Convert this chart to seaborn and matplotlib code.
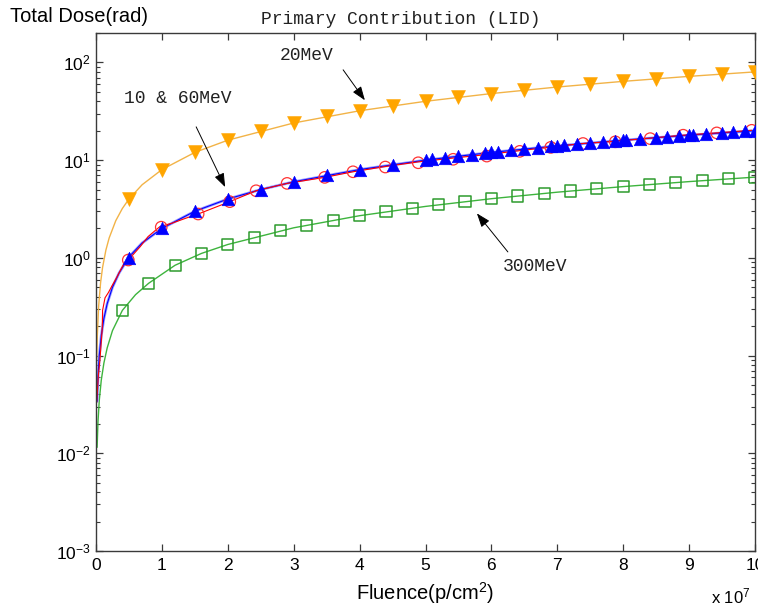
import matplotlib
matplotlib.use("Agg")
import matplotlib.pyplot as plt
from matplotlib.ticker import LogLocator, NullFormatter, FixedLocator
import seaborn as sns

# Fluence in units of 1e7 p/cm^2, total dose in rad

# 20 MeV (orange, downward triangles)
fluence_20mev = [0.5, 1.0, 1.5, 2.0, 2.5, 3.0, 3.5, 4.0, 4.5, 5.0,
                 5.5, 6.0, 6.5, 7.0, 7.5, 8.0, 8.5, 9.0, 9.5, 10.0]
dose_20mev = [4.0, 8.0, 12.0, 16.0, 20.0, 24.0, 28.0, 32.0, 36.0, 40.0,
              44.0, 48.0, 52.0, 56.0, 60.0, 64.0, 68.0, 72.0, 76.0, 80.0]
curve_fluence_20mev = [0.011, 0.02, 0.04, 0.07, 0.1, 0.15, 0.2, 0.3, 0.4, 0.5, 0.7,
                       1.0, 1.5, 2.0, 3.0, 4.0, 5.0, 6.0, 7.0, 8.0, 9.0, 10.0]
curve_dose_20mev = [0.09, 0.16, 0.32, 0.56, 0.8, 1.2, 1.6, 2.4, 3.2, 4.0, 5.6,
                    8.0, 12.0, 16.0, 24.0, 32.0, 40.0, 48.0, 56.0, 64.0, 72.0, 80.0]

# 60 MeV (blue, upward triangles)
fluence_60mev = [0.5, 1.0, 1.5, 2.0, 2.5, 3.0, 3.5, 4.0, 4.5, 5.0,
                 5.1, 5.3, 5.5, 5.7, 5.9, 6.0, 6.1, 6.3, 6.5, 6.7,
                 6.9, 7.0, 7.1, 7.3, 7.5, 7.7, 7.88, 8.0, 8.05, 8.25,
                 8.5, 8.66, 8.84, 9.0, 9.06, 9.26, 9.5, 9.66, 9.85, 10.0]
dose_60mev = [1.0, 2.0, 3.0, 4.0, 5.0, 6.0, 7.0, 8.0, 9.0, 10.0,
              10.2, 10.6, 11.0, 11.4, 11.8, 12.0, 12.2, 12.6, 13.0, 13.4,
              13.8, 14.0, 14.2, 14.6, 15.0, 15.4, 15.8, 16.0, 16.1, 16.5,
              17.0, 17.3, 17.7, 18.0, 18.1, 18.5, 19.0, 19.3, 19.7, 20.0]
curve_fluence_60mev = [0.017, 0.03, 0.05, 0.08, 0.12, 0.17, 0.25, 0.35, 0.5, 0.7,
                       1.0, 1.5, 2.0, 2.5, 3.0, 4.0, 5.0, 6.0, 7.0, 8.0, 9.0, 10.0]
curve_dose_60mev = [0.034, 0.06, 0.1, 0.16, 0.24, 0.34, 0.5, 0.7, 1.02, 1.42,
                    2.0, 3.0, 4.0, 5.0, 6.0, 8.0, 10.0, 12.0, 14.0, 16.0, 18.0, 20.0]

# 10 MeV (red, open circles)
fluence_10mev = [0.49, 0.99, 1.55, 2.03, 2.43, 2.9, 3.47, 3.9, 4.39, 4.89,
                 5.42, 5.93, 6.43, 6.9, 7.39, 7.88, 8.41, 8.91, 9.42, 9.95]
dose_10mev = [0.95, 2.06, 2.81, 3.76, 4.86, 5.78, 6.66, 7.6, 8.5, 9.4,
              10.2, 11.0, 12.3, 13.5, 14.8, 15.4, 16.6, 18.0, 19.0, 20.2]
curve_fluence_10mev = [0.01, 0.035, 0.06, 0.095, 0.1, 0.137, 0.187, 0.238, 0.314, 0.415,
                       0.49, 0.67, 0.79, 0.97, 1.15, 1.43, 1.58, 2.03, 2.43, 2.9,
                       3.47, 3.9, 4.39, 4.89, 5.42, 5.93, 6.43, 6.9, 7.39, 7.88,
                       8.41, 8.91, 9.42, 9.95]
curve_dose_10mev = [0.033, 0.062, 0.091, 0.19, 0.29, 0.39, 0.44, 0.51, 0.63, 0.85,
                    0.95, 1.30, 1.65, 2.09, 2.26, 2.64, 2.86, 3.76, 4.86, 5.78,
                    6.66, 7.6, 8.6, 9.6, 10.5, 11.4, 12.5, 13.6, 14.8, 15.6,
                    16.8, 18.0, 19.0, 20.2]

# 300 MeV (green, open squares)
fluence_300mev = [0.4, 0.8, 1.2, 1.6, 2.0, 2.4, 2.8, 3.2, 3.6, 4.0,
                  4.4, 4.8, 5.2, 5.6, 6.0, 6.4, 6.8, 7.2, 7.6, 8.0,
                  8.4, 8.8, 9.2, 9.6, 10.0]
dose_300mev = [0.29, 0.55, 0.84, 1.11, 1.37, 1.63, 1.90, 2.16, 2.43, 2.70,
               2.96, 3.22, 3.49, 3.76, 4.03, 4.29, 4.56, 4.83, 5.10, 5.36,
               5.63, 5.90, 6.17, 6.43, 6.70]
curve_fluence_300mev = [0.017, 0.03, 0.05, 0.08, 0.12, 0.17, 0.25, 0.4, 0.6, 0.8,
                        1.2, 1.6, 2.0, 3.0, 4.0, 5.0, 6.0, 7.0, 8.0, 9.0, 10.0]
curve_dose_300mev = [0.0115, 0.021, 0.035, 0.056, 0.084, 0.12, 0.18, 0.29, 0.42, 0.55,
                     0.84, 1.11, 1.37, 2.03, 2.70, 3.36, 4.03, 4.70, 5.36, 6.03, 6.70]

x_ticks = [0, 1, 2, 3, 4, 5, 6, 7, 8, 9, 10]

sns.set_theme(style="ticks")
plt.rcParams["font.family"] = ["Liberation Sans", "DejaVu Sans"]
plt.rcParams["mathtext.fontset"] = "custom"
plt.rcParams["mathtext.rm"] = "Liberation Sans"
plt.rcParams["mathtext.it"] = "Liberation Sans:italic"
plt.rcParams["mathtext.bf"] = "Liberation Sans:bold"

W, H = 758, 612
fig = plt.figure(figsize=(W / 100, H / 100), dpi=100)
fig.patch.set_facecolor("white")
ax = fig.add_axes([96 / W, 1 - 551 / H, (755 - 96) / W, (551 - 33) / H])
ax.set_facecolor("white")
ax.set_yscale("log")

ORANGE = "#FFA500"
ORANGE_LINE = "#F2B347"
BLUE = "#0000FF"
RED = "#FF0000"
GREEN = "#2E9B2E"
GREEN_LINE = "#3DB43D"

# connecting curves
sns.lineplot(x=curve_fluence_20mev, y=curve_dose_20mev, ax=ax, color=ORANGE_LINE,
             lw=1.0, estimator=None, sort=False, zorder=2)
sns.lineplot(x=curve_fluence_300mev, y=curve_dose_300mev, ax=ax, color=GREEN_LINE,
             lw=1.0, estimator=None, sort=False, zorder=2)
sns.lineplot(x=curve_fluence_60mev, y=curve_dose_60mev, ax=ax, color="#9A9AFF",
             lw=2.0, estimator=None, sort=False, zorder=2)
sns.lineplot(x=curve_fluence_60mev, y=curve_dose_60mev, ax=ax, color=BLUE,
             lw=0.8, estimator=None, sort=False, zorder=2.1)
sns.lineplot(x=curve_fluence_10mev, y=curve_dose_10mev, ax=ax, color=RED,
             lw=0.8, estimator=None, sort=False, zorder=2.2)

# markers
sns.scatterplot(x=fluence_300mev, y=dose_300mev, ax=ax, marker="s", s=64,
                color=GREEN, linewidth=1.1, zorder=3)
ax.collections[-1].set_facecolor("none")
ax.collections[-1].set_edgecolor(GREEN)

sns.scatterplot(x=fluence_10mev, y=dose_10mev, ax=ax, marker="o", s=68,
                color=RED, linewidth=0.9, zorder=3)
ax.collections[-1].set_facecolor("none")
ax.collections[-1].set_edgecolor("#FF3333")

sns.scatterplot(x=fluence_60mev, y=dose_60mev, ax=ax, marker="^", s=82,
                color=BLUE, edgecolor=BLUE, linewidth=0.4, zorder=4)
sns.scatterplot(x=fluence_20mev, y=dose_20mev, ax=ax, marker="v", s=100,
                color=ORANGE, edgecolor=ORANGE, linewidth=0.4, zorder=4)

# axes, ticks, frame
ax.set_xlim(0, 10)
ax.set_ylim(1e-3, 200)
ax.xaxis.set_major_locator(FixedLocator(x_ticks))
ax.set_xticklabels([str(t) for t in x_ticks])
ax.yaxis.set_major_locator(LogLocator(base=10, numticks=10))
ax.yaxis.set_minor_locator(LogLocator(base=10, subs=[2, 3, 4, 5, 6, 7, 8, 9], numticks=20))
ax.yaxis.set_minor_formatter(NullFormatter())
ax.tick_params(which="both", direction="in", top=True, right=True,
               color="#3A3A3A", labelcolor="black")
ax.tick_params(which="major", length=5, width=0.9, labelsize=12.5, pad=4)
ax.tick_params(which="minor", length=3, width=0.8)
ax.tick_params(axis="x", which="major", pad=5)
for sp in ax.spines.values():
    sp.set_color("#3A3A3A")
    sp.set_linewidth(1.0)
ax.grid(False)
ax.set_xlabel("")
ax.set_ylabel("")

# labels
fig.text(10 / W, 1 - 17 / H, "Total Dose(rad)", ha="left", va="center",
         fontsize=14.5, color="black")
fig.text(401 / W, 1 - 20 / H, "Primary Contribution (LID)", ha="center", va="center",
         family="Liberation Mono", fontsize=13, color="#222222")
fig.text(425 / W, 1 - 600 / H, "Fluence(p/cm$^{2}$)", ha="center", va="baseline",
         fontsize=14.5, color="black")
fig.text(731 / W, 1 - 603 / H, "x 10$^{7}$", ha="center", va="baseline",
         fontsize=12, color="black")

# annotations
mono = dict(family="Liberation Mono", fontsize=13, color="#222222")
arrow = dict(arrowstyle="-|>,head_length=0.6,head_width=0.22", color="black",
             lw=0.7, shrinkA=0, shrinkB=0, mutation_scale=14)

ax.text(3.2, 117, "20MeV", ha="center", va="center", **mono)
ax.annotate("", xy=(4.08, 41), xytext=(3.75, 84), arrowprops=arrow)

ax.text(1.24, 43, "10 & 60MeV", ha="center", va="center", **mono)
ax.annotate("", xy=(1.96, 5.3), xytext=(1.52, 21.9), arrowprops=arrow)

ax.text(6.67, 0.82, "300MeV", ha="center", va="center", **mono)
ax.annotate("", xy=(5.78, 2.85), xytext=(6.25, 1.15), arrowprops=arrow)

fig.savefig("out.png", dpi=100, facecolor="white")
